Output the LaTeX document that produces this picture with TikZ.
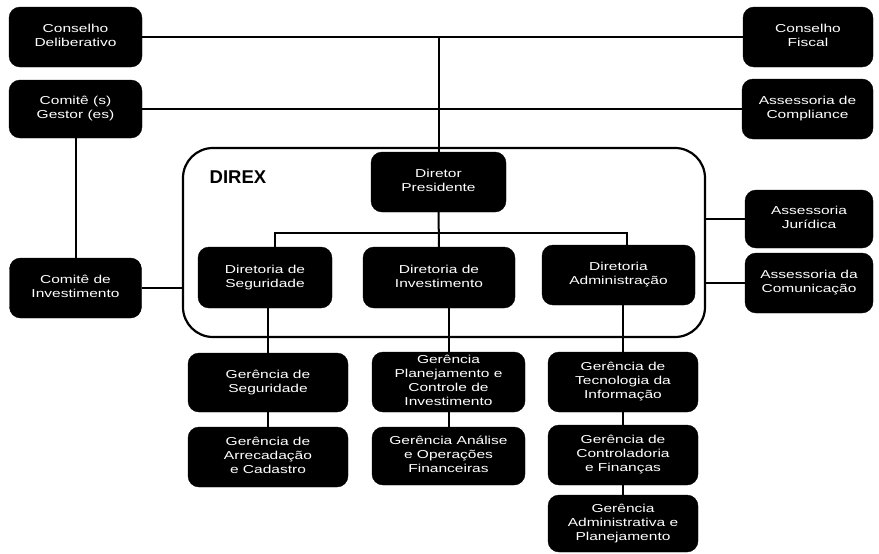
\documentclass[tikz,border=0pt]{standalone}
\usepackage{fontspec}
\setmainfont{Liberation Sans}
\usepackage{graphicx}
\newcommand{\bt}[1]{\scalebox{1.35}[1]{\begin{tabular}{@{}c@{}}#1\end{tabular}}}
\tikzset{
  box/.style={draw=black, fill=black, rounded corners=11pt, text=white, inner sep=0pt,
    font=\fontsize{11.5}{14}\selectfont},
  sz/.style 2 args={minimum width=#1pt, minimum height=#2pt},
  conn/.style={draw=black, line width=2pt},
  frame/.style={draw=black, line width=2.2pt, rounded corners=30pt, inner sep=0pt},
}
\begin{document}
\begin{tikzpicture}[x=1pt,y=-1pt]
\useasboundingbox (0,0) rectangle (879,554);
% DIREX frame
\node[frame, sz={522}{189}] (direx) at (444,242.5) {};
\node[font=\fontsize{18.5}{20}\selectfont\bfseries, inner sep=0pt] (direxlbl) at (238,177) {DIREX};
% left column
\node[box, sz={133}{60}] (cd) at (75.5,37) {\bt{Conselho\\Deliberativo}};
\node[box, sz={133}{58}] (cg) at (75.5,109) {\bt{Comitê (s)\\Gestor (es)}};
\node[box, sz={132}{60}] (ci) at (75.5,288) {\bt{Comitê de\\Investimento}};
% right column
\node[box, sz={130}{60}] (cf) at (808,37) {\bt{Conselho\\Fiscal}};
\node[box, sz={131}{60}] (ac) at (807.5,109) {\bt{Assessoria de\\Compliance}};
\node[box, sz={128}{58}] (aj) at (809,219) {\bt{Assessoria\\Jurídica}};
\node[box, sz={128}{60}] (acm) at (809,283) {\bt{Assessoria da\\Comunicação}};
% DIREX contents
\node[box, sz={135}{60}] (dp) at (438.5,182) {\bt{Diretor\\Presidente}};
\node[box, sz={134}{61}] (ds) at (265,277.5) {\bt{Diretoria de\\Seguridade}};
\node[box, sz={152}{61}] (di) at (439,277.5) {\bt{Diretoria de\\Investimento}};
\node[box, sz={153}{60}] (da) at (618.5,275) {\bt{Diretoria\\Administração}};
% gerencias
\node[box, sz={160}{59}] (gs) at (268,382.5) {\bt{Gerência de\\Seguridade}};
\node[box, sz={160}{60}] (ga) at (268,457) {\bt{Gerência de\\Arrecadação\\e Cadastro}};
\node[box, sz={153}{60}] (gp) at (448.5,382) {\bt{Gerência\\Planejamento e\\Controle de\\Investimento}};
\node[box, sz={153}{58}] (gf) at (448.5,456) {\bt{Gerência Análise\\e Operações\\Financeiras}};
\node[box, sz={150}{60}] (gt) at (623,382) {\bt{Gerência de\\Tecnologia da\\Informação}};
\node[box, sz={150}{60}] (gc) at (623,455) {\bt{Gerência de\\Controladoria\\e Finanças}};
\node[box, sz={150}{57}] (gad) at (623,523.5) {\bt{Gerência\\Administrativa e\\Planejamento}};
% connectors
\coordinate (busL) at (275,233);
\coordinate (busR) at (627,233);
\draw[conn] (cd.east) -- (cf.west);
\draw[conn] (cg.east) -- (ac.west);
\draw[conn] (dp.north) -- (dp.north |- cd.east);
\draw[conn] (cg.south) -- (ci.north);
\draw[conn] (ci.east) -- (ci.east -| direx.west);
\draw[conn] (aj.west -| direx.east) -- (aj.west);
\draw[conn] (acm.west -| direx.east) -- (acm.west);
\draw[conn] (dp.south) -- (di.north);
\draw[conn] (busL |- ds.north) -- (busL) -- (busR) -- (busR |- da.north);
\draw[conn] (ds.south -| gs.north) -- (gs.north);
\draw[conn] (gs.south) -- (ga.north);
\draw[conn] (di.south -| gp.north) -- (gp.north);
\draw[conn] (gp.south) -- (gf.north);
\draw[conn] (da.south -| gt.north) -- (gt.north);
\draw[conn] (gt.south) -- (gc.north);
\draw[conn] (gc.south) -- (gad.north);
\end{tikzpicture}
\end{document}
